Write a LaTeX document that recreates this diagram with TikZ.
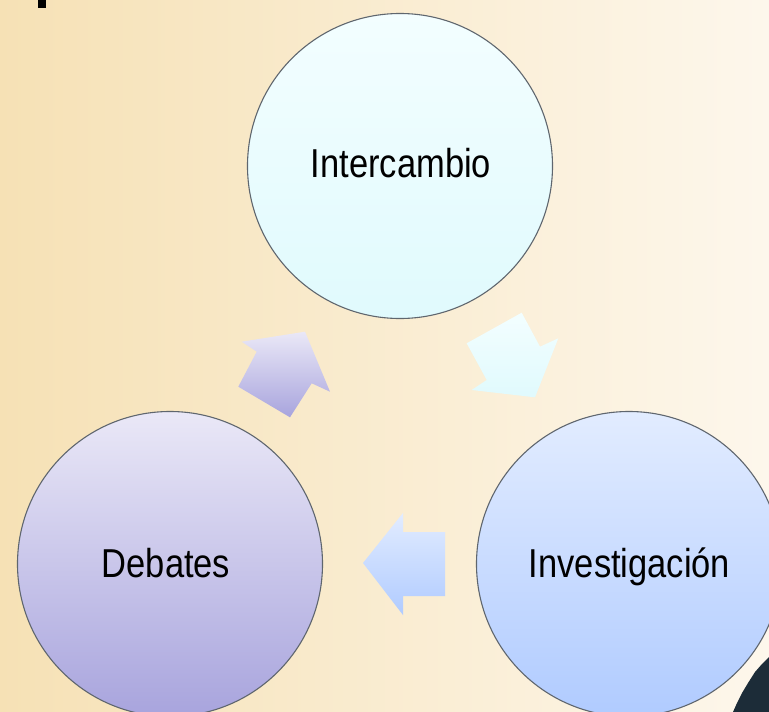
\documentclass[tikz,border=0pt]{standalone}
\usepackage{fontspec}
\usepackage{graphicx}
\setmainfont{Liberation Sans}
\definecolor{bgL}{RGB}{246,225,181}
\definecolor{bgR}{RGB}{253,247,236}
\definecolor{icTop}{RGB}{243,254,255}
\definecolor{icBot}{RGB}{224,250,253}
\definecolor{dbTop}{RGB}{234,232,247}
\definecolor{dbBot}{RGB}{168,164,221}
\definecolor{ivTop}{RGB}{226,236,255}
\definecolor{ivBot}{RGB}{176,203,255}
\definecolor{rim}{RGB}{95,102,110}
\definecolor{corner}{RGB}{28,44,56}
\tikzset{
  bubble/.style={circle, draw=rim, line width=1.1pt, inner sep=0pt, minimum size=305pt},
  lbl/.style={anchor=base, inner sep=0pt, font=\fontsize{34.5}{40}\selectfont, text=black},
  blockarrow/.style={draw=none}
}
\newcommand{\tall}[1]{\scalebox{1}[1.17]{#1}}
\begin{document}
\begin{tikzpicture}[x=1pt,y=-1pt]
\useasboundingbox (0,0) rectangle (769,712);
\shade[left color=bgL, right color=bgR] (0,0) rectangle (769,712);
% top-left fragment
\fill[black] (38,0) rectangle (46,7.5);
% bottom-right dark fragment
\fill[corner] (769,657) -- (762,664) -- (755,672) -- (748,683) -- (742,693) -- (737,703) -- (733,712) -- (769,712) -- cycle;
% circles
\node[bubble, top color=icTop, bottom color=icBot] (inter) at (400,166) {};
\node[bubble, top color=dbTop, bottom color=dbBot] (deb) at (170,564) {};
\node[bubble, top color=ivTop, bottom color=ivBot] (inv) at (629,564) {};
% labels
\node[lbl] (tinter) at (401,177) {\tall{Intercambio}};
\node[lbl] (tdeb) at (166,577) {\tall{Debates}};
\node[lbl] (tinv) at (629.5,577) {\tall{Investigación}};
% arrows
\shade[blockarrow, top color=dbTop, bottom color=dbBot]
  (238.3,386.7) -- (256.7,351.7) -- (241.7,341.7) -- (305,331.7) -- (330,391.7) -- (311.7,383.3) -- (290,417.3) -- cycle;
\shade[blockarrow, top color=icTop, bottom color=icBot]
  (521.7,312.7) -- (466.7,343.3) -- (486.7,380) -- (471.7,390) -- (535,397.3) -- (558.3,338.3) -- (540,346.7) -- cycle;
\shade[blockarrow, top color=ivTop, bottom color=ivBot]
  (445,532) -- (403,532) -- (403,513) -- (363,563) -- (403,615) -- (403,596) -- (445,596) -- cycle;
\end{tikzpicture}
\end{document}
